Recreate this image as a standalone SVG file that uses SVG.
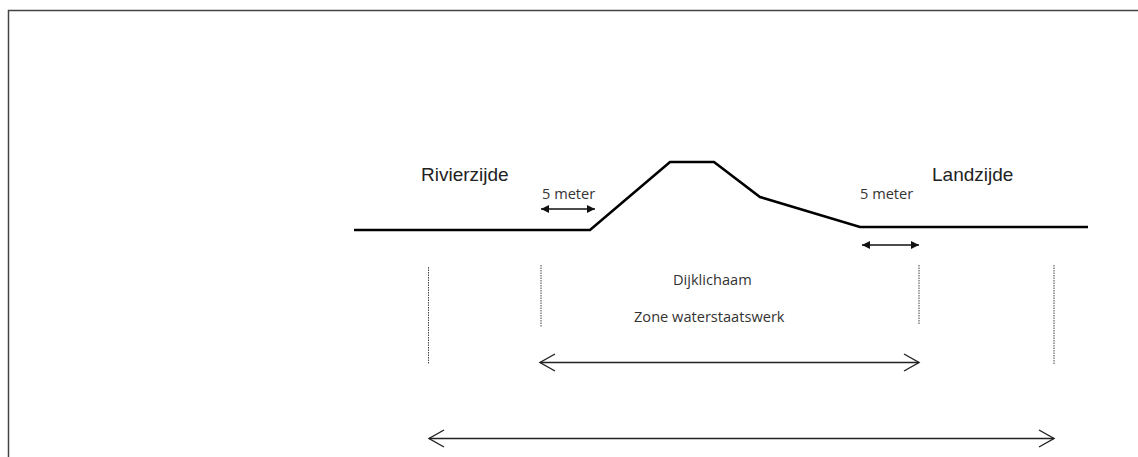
<svg xmlns="http://www.w3.org/2000/svg" width="1138" height="457" viewBox="0 0 1138 457">
<style>
.frame{fill:none;stroke:#444;stroke-width:1.5}
.dike{fill:none;stroke:#000;stroke-width:2.6;stroke-linejoin:miter}
.dot{fill:none;stroke:#444;stroke-width:1;stroke-dasharray:1.5 1}
.small{fill:none;stroke:#111;stroke-width:1.4}
.open{fill:none;stroke:#222;stroke-width:1.4}
text{font-family:"Liberation Sans",Arial,sans-serif;fill:#222}
.lab{font-size:19px}
.sm{font-size:14.6px;font-family:"Open Sans","Liberation Sans",sans-serif;fill:#333}
</style>
<defs>
<marker id="tri" markerUnits="userSpaceOnUse" markerWidth="9" markerHeight="8" refX="8" refY="4" orient="auto-start-reverse"><path d="M0 0L8 4L0 8Z" fill="#111"/></marker>
<marker id="chev" markerUnits="userSpaceOnUse" markerWidth="18" markerHeight="20" refX="16" refY="10" orient="auto-start-reverse"><path d="M1 1.500L16 10L1 18.500" fill="none" stroke="#222" stroke-width="1.4"/></marker>
</defs>
<path id="frame" class="frame" d="M8.500 457V10.500H1138"/>
<g id="dike"><path class="dike" d="M354 230H590L670 162H714L760 197L860 227H1088"/></g>
<g id="connectors">
<path class="small" d="M541 209H595" marker-start="url(#tri)" marker-end="url(#tri)"/>
<path class="small" d="M862 245H919" marker-start="url(#tri)" marker-end="url(#tri)"/>
<path class="dot" d="M428.500 267V364"/>
<path class="dot" d="M541 265V327"/>
<path class="dot" d="M919 265V325"/>
<path class="dot" d="M1054 265V364"/>
<path class="open" d="M540 362.500H919" marker-start="url(#chev)" marker-end="url(#chev)"/>
<path class="open" d="M429 438.500H1054" marker-start="url(#chev)" marker-end="url(#chev)"/>
</g>
<g id="rivierzijde"><text class="lab" x="421" y="181">Rivierzijde</text></g>
<g id="landzijde"><text class="lab" x="932" y="181">Landzijde</text></g>
<g id="m1"><text class="sm" x="542" y="199">5 meter</text></g>
<g id="m2"><text class="sm" x="860" y="199">5 meter</text></g>
<g id="dijk"><text class="sm" x="673" y="285">Dijklichaam</text></g>
<g id="zone"><text class="sm" x="634" y="322">Zone waterstaatswerk</text></g>
</svg>
